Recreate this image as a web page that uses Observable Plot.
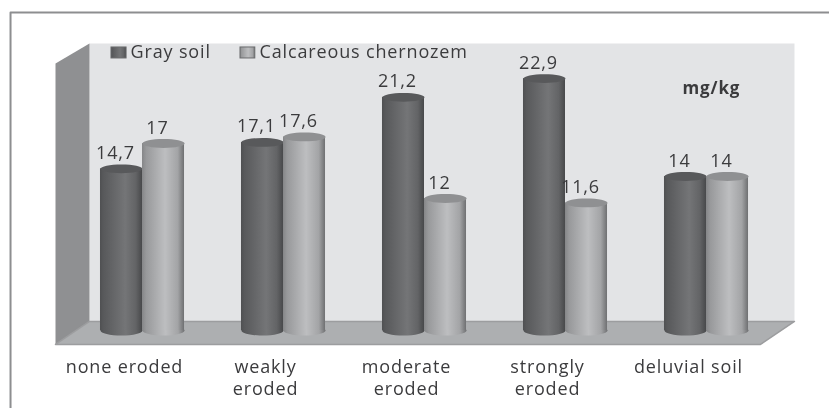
<!DOCTYPE html>
<html><head><meta charset="utf-8">
<script src="https://cdn.jsdelivr.net/npm/d3@7"></script>
<script src="https://cdn.jsdelivr.net/npm/@observablehq/plot@0.6"></script>
<style>html,body{margin:0;background:#fff}svg{display:block;filter:blur(.6px)}</style>
</head><body><div id="chart"></div>
<script>
const categories = ["none eroded","weakly\neroded","moderate\neroded","strongly\neroded","deluvial soil"];
const seriesNames = ["Gray soil","Calcareous chernozem"];
const graySoil = [14.7,17.1,21.2,22.9,14];
const chernozem = [17,17.6,12,11.6,14];
const unit = "mg/kg";

const W = .298;
const rows = categories.flatMap((c,i)=>[
  {i,series:0,value:graySoil[i],x1:i-W,x2:i},
  {i,series:1,value:chernozem[i],x1:i,x2:i+W}
]);
const gray = rows.filter(d=>d.series===0), light = rows.filter(d=>d.series===1);

const backWall = [[-.376,26.09],[4.624,26.09],[4.624,.82],[-.376,.82]];
const leftWall = [[-.617,24.27],[-.376,26.09],[-.376,.82],[-.617,-1.27]];
const floor = [[-.617,-1.27],[-.376,.82],[4.624,.82],[4.383,-1.27]];
const border = [[-.936,-7.1],[-.936,28.91],[4.87,28.91]];

const ellipse = ratio => ({draw(ctx,size){
  const r=Math.sqrt(size/Math.PI), ry=r*ratio, k=.5523;
  ctx.moveTo(-r,0);
  ctx.bezierCurveTo(-r,-ry*k,-r*k,-ry,0,-ry);
  ctx.bezierCurveTo(r*k,-ry,r,-ry*k,r,0);
  ctx.bezierCurveTo(r,ry*k,r*k,ry,0,ry);
  ctx.bezierCurveTo(-r*k,ry,-r,ry*k,-r,0);
  ctx.closePath();
}});
const mid = d=>(d.x1+d.x2)/2;
const label = d=>String(d.value).replace(".",",");
const defs = () => {
  const s = d3.create("svg:defs");
  const grad=(id,stops)=>{const g=s.append("linearGradient").attr("id",id);
    stops.forEach(([o,c])=>g.append("stop").attr("offset",o).attr("stop-color",c));};
  grad("dark",[[0,"#4f5052"],[.08,"#58595b"],[.6,"#747577"],[.85,"#636466"],[1,"#48494b"]]);
  grad("pale",[[0,"#858688"],[.1,"#98999b"],[.55,"#bdbec0"],[.85,"#a3a4a6"],[1,"#6f7072"]]);
  return s.node();
};
const poly = (pts,fill,stroke) => Plot.line(pts,{x:d=>d[0],y:d=>d[1],fill,stroke:stroke||"none",z:null,curve:"linear-closed"});
const cyl = (data,grad,cap) => [
  Plot.dot(data,{x:mid,y:()=>0,r:21,symbol:ellipse(.24),fill:`url(#${grad})`}),
  Plot.rect(data,{x1:"x1",x2:"x2",y1:()=>0,y2:"value",fill:`url(#${grad})`}),
  Plot.dot(data,{x:mid,y:"value",r:21,symbol:ellipse(.21),fill:cap})
];
const textColor="#3b3b3d", F="Open Sans";

const plot = Plot.plot({
  width:829,height:408,marginLeft:71.5,marginRight:52.5,marginTop:0,marginBottom:78,
  style:{fontFamily:F,background:"#fff",letterSpacing:".85px"},
  x:{domain:[-.5,4.5],axis:null},
  y:{domain:[0,30],axis:null},
  marks:[
    defs,
    Plot.line(border,{x:d=>d[0],y:d=>d[1],stroke:"#8d8e90",strokeWidth:2}),
    poly(backWall,"#e3e4e6"),
    poly(leftWall,"#8f9092"),
    poly(floor,"#adafb1","#9c9d9f"),
    ...cyl(gray,"dark","#58595b"),
    ...cyl(light,"pale","#8f9092"),
    Plot.text(gray,{x:mid,y:"value",text:label,dx:-6,dy:-10,lineAnchor:"bottom",fontSize:18,fill:textColor}),
    Plot.text(light,{x:mid,y:"value",text:label,dx:-6,dy:-10,lineAnchor:"bottom",fontSize:18,fill:textColor}),
    Plot.axisX({ticks:categories.map((c,i)=>i),tickFormat:i=>categories[i],tickSize:0,tickPadding:27,dx:-18,lineHeight:1.22,fontSize:18,fill:textColor,label:null}),
    Plot.rect([0],{x1:()=>-.22,x2:()=>-.113,y1:()=>25.73,y2:()=>24.73,fill:"url(#dark)",stroke:"#6a6b6d"}),
    Plot.rect([0],{x1:()=>.695,x2:()=>.80,y1:()=>25.73,y2:()=>24.73,fill:"url(#pale)",stroke:"#6a6b6d"}),
    Plot.text([seriesNames[0]],{x:()=>-.085,y:()=>25.27,text:d=>d,textAnchor:"start",fontSize:18,fill:textColor}),
    Plot.text([seriesNames[1]],{x:()=>.83,y:()=>25.27,text:d=>d,textAnchor:"start",fontSize:18,fill:textColor}),
    Plot.text([unit],{x:()=>4.035,y:()=>22,text:d=>d,fontSize:17,fontWeight:"bold",fill:textColor})
  ]
});
document.getElementById("chart").append(plot);
</script></body></html>
